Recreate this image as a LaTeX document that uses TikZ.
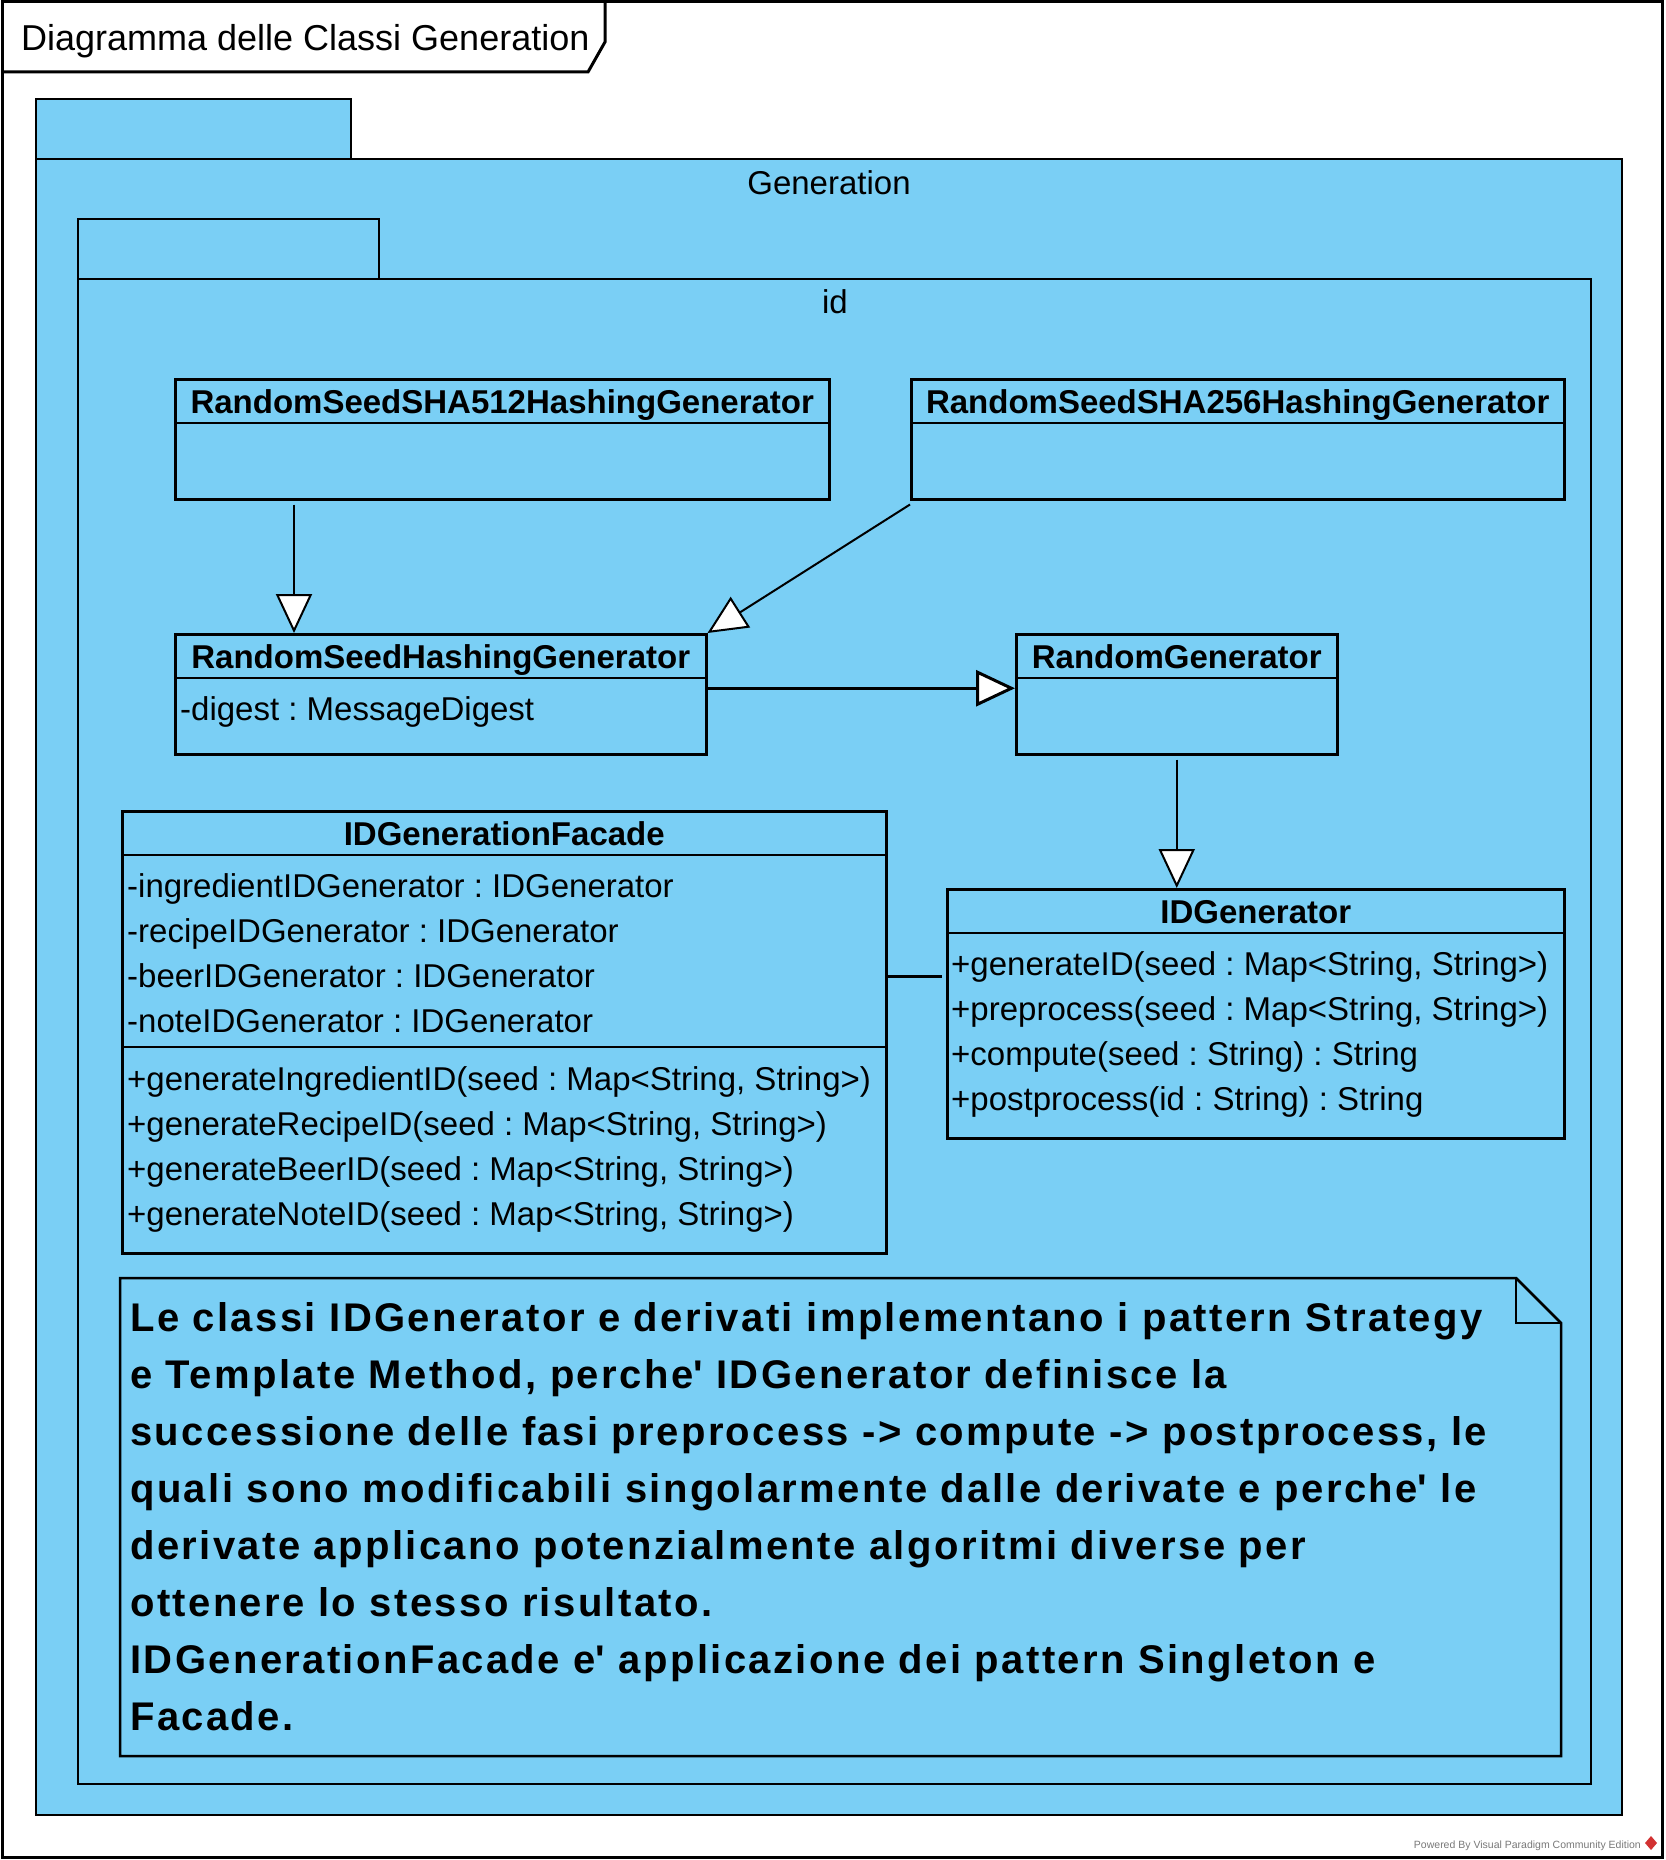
\documentclass[tikz,border=0pt]{standalone}
\usepackage{fontspec}
\setmainfont{Liberation Sans}
\newfontfamily\notefont[LetterSpace=6]{Liberation Sans}
\usepackage{tikz}
\usetikzlibrary{calc,arrows.meta}
\definecolor{vpblue}{RGB}{122,207,245}
\definecolor{vpgray}{RGB}{120,120,120}
\definecolor{vpred}{RGB}{210,50,50}
\tikzset{
  pkgbox/.style={draw,line width=2.5pt,fill=vpblue},
  pkglabel/.style={anchor=base,inner sep=0pt,font=\fontsize{33}{40}\selectfont},
  clsbox/.style={draw,line width=2.5pt,fill=vpblue,inner sep=0pt,anchor=north west},
  clsname/.style={anchor=base,inner sep=0pt,font=\bfseries\fontsize{33}{40}\selectfont},
  member/.style={anchor=base west,inner sep=0pt,font=\fontsize{33}{40}\selectfont},
  sep/.style={line width=2.5pt},
  inherit/.style={-{Triangle[fill=white,length=39pt,width=36pt]},line width=2pt},
}

\begin{document}
\frenchspacing
\begin{tikzpicture}[x=1pt,y=-1pt]
        \useasboundingbox (0,0) rectangle (1665,1860);
        % frame with title
        \draw[line width=3pt] (2,2) rectangle (1662,1857);
        \draw[line width=3pt] (2,72) -- (588,72) -- (605,42) -- (605,2);
        \node[anchor=base west,inner sep=0pt,font=\fontsize{36}{43}\selectfont] (title) at (21,51)
          {Diagramma delle Classi Generation};
        % package Generation
        \draw[pkgbox] (36,99) rectangle (351,159);
        \draw[pkgbox] (36,159) rectangle (1622,1815);
        \node[pkglabel] (genlabel) at (829,194) {Generation};
        % package id
        \draw[pkgbox] (78,219) rectangle (379,279);
        \draw[pkgbox] (78,279) rectangle (1591,1784);
        \node[pkglabel] (idlabel) at (835,313) {id};
        % classes
        \node[clsbox,minimum width=654pt,minimum height=120pt] (sha512) at (174,378) {};
        \node[clsbox,minimum width=653pt,minimum height=120pt] (sha256) at (910,378) {};
        \node[clsbox,minimum width=531pt,minimum height=120pt] (rshg) at (174,633) {};
        \node[clsbox,minimum width=321pt,minimum height=120pt] (rg) at (1015,633) {};
        \node[clsbox,minimum width=764pt,minimum height=442pt] (facade) at (121,810) {};
        \node[clsbox,minimum width=617pt,minimum height=249pt] (idgen) at (946,888) {};
        \foreach \c in {sha512,sha256,rshg,rg,facade,idgen}
          \draw[sep] ([yshift=-45pt]\c.north west) -- ([yshift=-45pt]\c.north east);
        \draw[sep] ([yshift=-237pt]facade.north west) -- ([yshift=-237pt]facade.north east);
        \node[clsname] (sha512name) at ([yshift=-35pt]sha512.north) {RandomSeedSHA512HashingGenerator};
        \node[clsname] (sha256name) at ([yshift=-35pt]sha256.north) {RandomSeedSHA256HashingGenerator};
        \node[clsname] (rshgname) at ([yshift=-35pt]rshg.north) {RandomSeedHashingGenerator};
        \node[clsname] (rgname) at ([yshift=-35pt]rg.north) {RandomGenerator};
        \node[clsname] (facadename) at ([yshift=-35pt]facade.north) {IDGenerationFacade};
        \node[clsname] (idgenname) at ([yshift=-35pt]idgen.north) {IDGenerator};
        % members
        \node[member] (digest) at (180,720) {-digest : MessageDigest};
        \foreach \txt [count=\i] in {{-ingredientIDGenerator : IDGenerator},{-recipeIDGenerator : IDGenerator},
            {-beerIDGenerator : IDGenerator},{-noteIDGenerator : IDGenerator}}
          \node[member] (fa\i) at (127,{897+45*(\i-1)}) {\txt};
        \foreach \txt [count=\i] in {{+generateIngredientID(seed : Map<String, String>)},
            {+generateRecipeID(seed : Map<String, String>)},{+generateBeerID(seed : Map<String, String>)},
            {+generateNoteID(seed : Map<String, String>)}}
          \node[member] (fm\i) at (127,{1090+45*(\i-1)}) {\txt};
        \foreach \txt [count=\i] in {{+generateID(seed : Map<String, String>)},{+preprocess(seed : Map<String, String>)},
            {+compute(seed : String) : String},{+postprocess(id : String) : String}}
          \node[member] (im\i) at (951,{975+45*(\i-1)}) {\txt};
        % generalizations and association
        \draw[inherit] ([xshift=120pt,yshift=-4pt]sha512.south west) -- ([xshift=120pt]rshg.north west);
        \draw[inherit] ([yshift=-4pt]sha256.south west) -- (rshg.north east);
        \draw[inherit,line width=3pt] ([yshift=6pt]rshg.east) -- ([yshift=6pt]rg.west);
        \draw[inherit] ([yshift=-4pt]rg.south) -- (rg.south |- idgen.north);
        \draw[line width=3pt] ([yshift=37pt,xshift=-4pt]idgen.west) -- ([yshift=37pt]idgen.west -| facade.east);
        % note
        \draw[line width=2.5pt,fill=vpblue] (120,1278) -- (1516,1278) -- (1561,1323) -- (1561,1756) -- (120,1756) -- cycle;
        \draw[line width=2pt] (1516,1278) -- (1516,1323) -- (1561,1323);
        \node[anchor=north west,inner sep=0pt,align=left,font=\notefont\bfseries\fontsize{40}{57}\selectfont] (notetext) at (130,1302)
          {Le classi IDGenerator e derivati implementano i pattern Strategy\\
           e Template Method, perche\textquotesingle{} IDGenerator definisce la\\
           successione delle fasi preprocess -> compute -> postprocess, le\\
           quali sono modificabili singolarmente dalle derivate e perche\textquotesingle{} le\\
           derivate applicano potenzialmente algoritmi diverse per\\
           ottenere lo stesso risultato.\\
           IDGenerationFacade e\textquotesingle{} applicazione dei pattern Singleton e\\
           Facade.};
        % footer
        \node[anchor=base east,inner sep=0pt,text=vpgray,font=\fontsize{10.5}{12}\selectfont] (powered) at (1641,1848)
          {Powered By Visual Paradigm Community Edition};
        \fill[vpred] (1651,1836) -- (1657,1843) -- (1651,1850) -- (1645,1843) -- cycle;
\end{tikzpicture}
\end{document}
